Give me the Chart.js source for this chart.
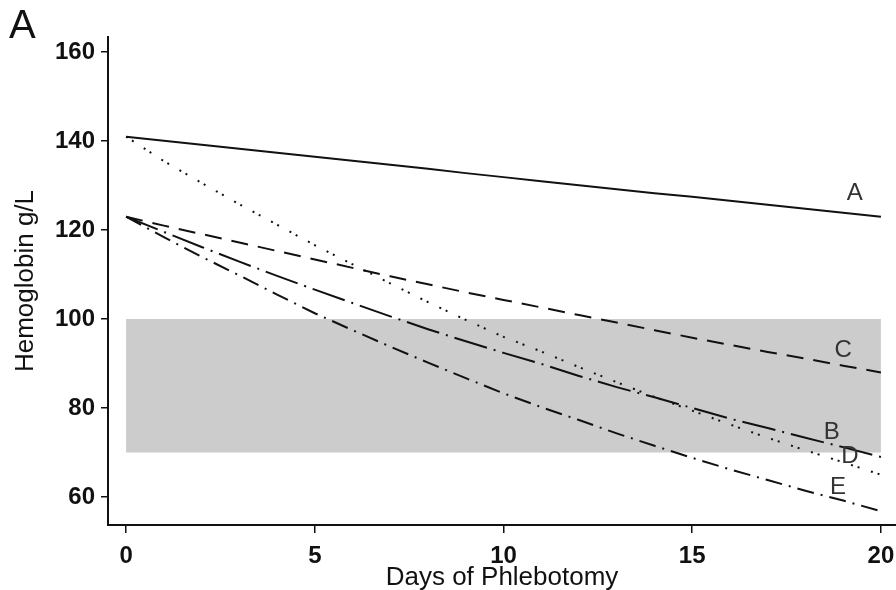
<!DOCTYPE html>
<html>
<head>
<meta charset="utf-8">
<script src="https://cdn.jsdelivr.net/npm/chart.js@4.4.1/dist/chart.umd.min.js"></script>
<style>
html,body{margin:0;padding:0;background:#fff;}
#wrap{width:896px;height:590px;position:relative;}
</style>
</head>
<body>
<div id="wrap"><canvas id="c" width="896" height="590"></canvas></div>
<script>
// ---- data ----
const days = [0,1,2,3,4,5,6,7,8,9,10,11,12,13,14,15,16,17,18,19,20];
const hbA = [141,140.1,139.2,138.3,137.4,136.5,135.6,134.7,133.8,132.8,131.9,131.0,130.1,129.2,128.3,127.5,126.6,125.7,124.8,123.9,123];
const hbB = [123,119.6,116.2,112.9,109.7,106.6,103.6,100.6,97.7,95.0,92.4,89.9,87.2,84.7,82.4,80.0,77.6,75.5,73.3,71.2,69];
const hbC = [123,121.0,119.1,117.2,115.3,113.4,111.5,109.6,107.8,106.0,104.3,102.6,100.9,99.2,97.5,95.8,94.2,92.6,91.1,89.5,88];
const hbD = [141,135.5,130.6,125.8,121.2,116.6,112.3,108.0,103.8,99.8,96.0,92.7,89.2,85.8,82.5,79.4,76.3,73.3,70.5,67.8,65];
const hbE = [123,118.4,114.0,109.8,105.5,101.3,97.5,93.8,90.2,86.7,83.3,80.2,77.3,74.3,71.5,68.8,66.2,63.8,61.4,59.2,56.8];

const bandDays = [0, 20];
const bandHigh = 100;
const bandLow = 70;

const xTicks = [0,5,10,15,20];
const yTicks = [60,80,100,120,140,160];

const labelNames = ['A','C','B','D','E'];
const labelX = [19.31, 19.0, 18.7, 19.18, 18.86];
const labelY = [128.3, 93.0, 74.6, 69.2, 62.2];

const panelLabel = 'A';
const xTitle = 'Days of Phlebotomy';
const yTitle = 'Hemoglobin g/L';

// ---- build ----
const toPts = arr => days.map((d,i)=>({x:d, y:arr[i]}));
const FONT = '"Liberation Sans", Arial, Helvetica, sans-serif';
const INK = '#111';

function lineDs(label, arr, dash){
  return {label, data: toPts(arr), borderColor: INK, borderWidth: 2,
    borderDash: dash, pointRadius: 0, fill: false, tension: 0, order: 0};
}

const labelPlugin = {
  id: 'lineLabels',
  afterDatasetsDraw(chart){
    const {ctx, scales:{x, y}} = chart;
    ctx.save();
    ctx.fillStyle = '#333';
    ctx.font = '24px ' + FONT;
    ctx.textAlign = 'center';
    ctx.textBaseline = 'middle';
    labelNames.forEach((t,i)=>{
      ctx.fillText(t, x.getPixelForValue(labelX[i]), y.getPixelForValue(labelY[i]));
    });
    ctx.fillStyle = '#111';
    ctx.font = '40px ' + FONT;
    ctx.textAlign = 'left';
    ctx.textBaseline = 'alphabetic';
    ctx.fillText(panelLabel, 9, 38);
    ctx.restore();
  }
};

new Chart(document.getElementById('c'), {
  type: 'line',
  data: {
    datasets: [
      lineDs('A', hbA, []),
      lineDs('C', hbC, [17,10]),
      lineDs('B', hbB, [34,7,2,7]),
      lineDs('D', hbD, [2,5,2,12]),
      lineDs('E', hbE, [17,7,2,7]),
      {label:'bandHigh', data: bandDays.map(d=>({x:d,y:bandHigh})), borderWidth:0, pointRadius:0,
       backgroundColor:'#cccccc', borderColor:'rgba(0,0,0,0)', fill:'+1', order: 10},
      {label:'bandLow', data: bandDays.map(d=>({x:d,y:bandLow})), borderWidth:0, pointRadius:0,
       borderColor:'rgba(0,0,0,0)', fill:false, order: 11}
    ]
  },
  options: {
    responsive: false,
    animation: false,
    devicePixelRatio: 1,
    layout: {padding: {left: 10, top: 37, right: 0, bottom: 0}},
    plugins: {legend: {display:false}, tooltip: {enabled:false}, filler: {drawTime: 'beforeDatasetsDraw'}},
    scales: {
      x: {
        type: 'linear', min: -0.48, max: 20.4,
        afterBuildTicks: s => { s.ticks = xTicks.map(v=>({value:v})); },
        afterFit: s => { s.height = 65; s.paddingLeft = 0; s.paddingRight = 0; },
        border: {color: INK, width: 2},
        grid: {drawOnChartArea:false, color: INK, lineWidth: 1.5, tickLength: 8},
        ticks: {font: {family: FONT, size: 24, weight: 'bold'}, color: '#111', padding: 9, maxRotation: 0},
        title: {display: true, text: xTitle, color: '#111', font: {family: FONT, size: 26}, padding: {top: 0, bottom: -3}}
      },
      y: {
        type: 'linear', min: 53.7, max: 163.4,
        afterBuildTicks: s => { s.ticks = yTicks.map(v=>({value:v})); },
        afterFit: s => { s.width = 98; s.paddingTop = 0; s.paddingBottom = 0; },
        border: {color: INK, width: 2},
        grid: {drawOnChartArea:false, color: INK, lineWidth: 1.5, tickLength: 7},
        ticks: {font: {family: FONT, size: 24, weight: 'bold'}, color: '#111', padding: 6},
        title: {display: true, text: yTitle, color: '#111', font: {family: FONT, size: 26}, padding: 0}
      }
    }
  },
  plugins: [labelPlugin]
});
</script>
</body>
</html>
